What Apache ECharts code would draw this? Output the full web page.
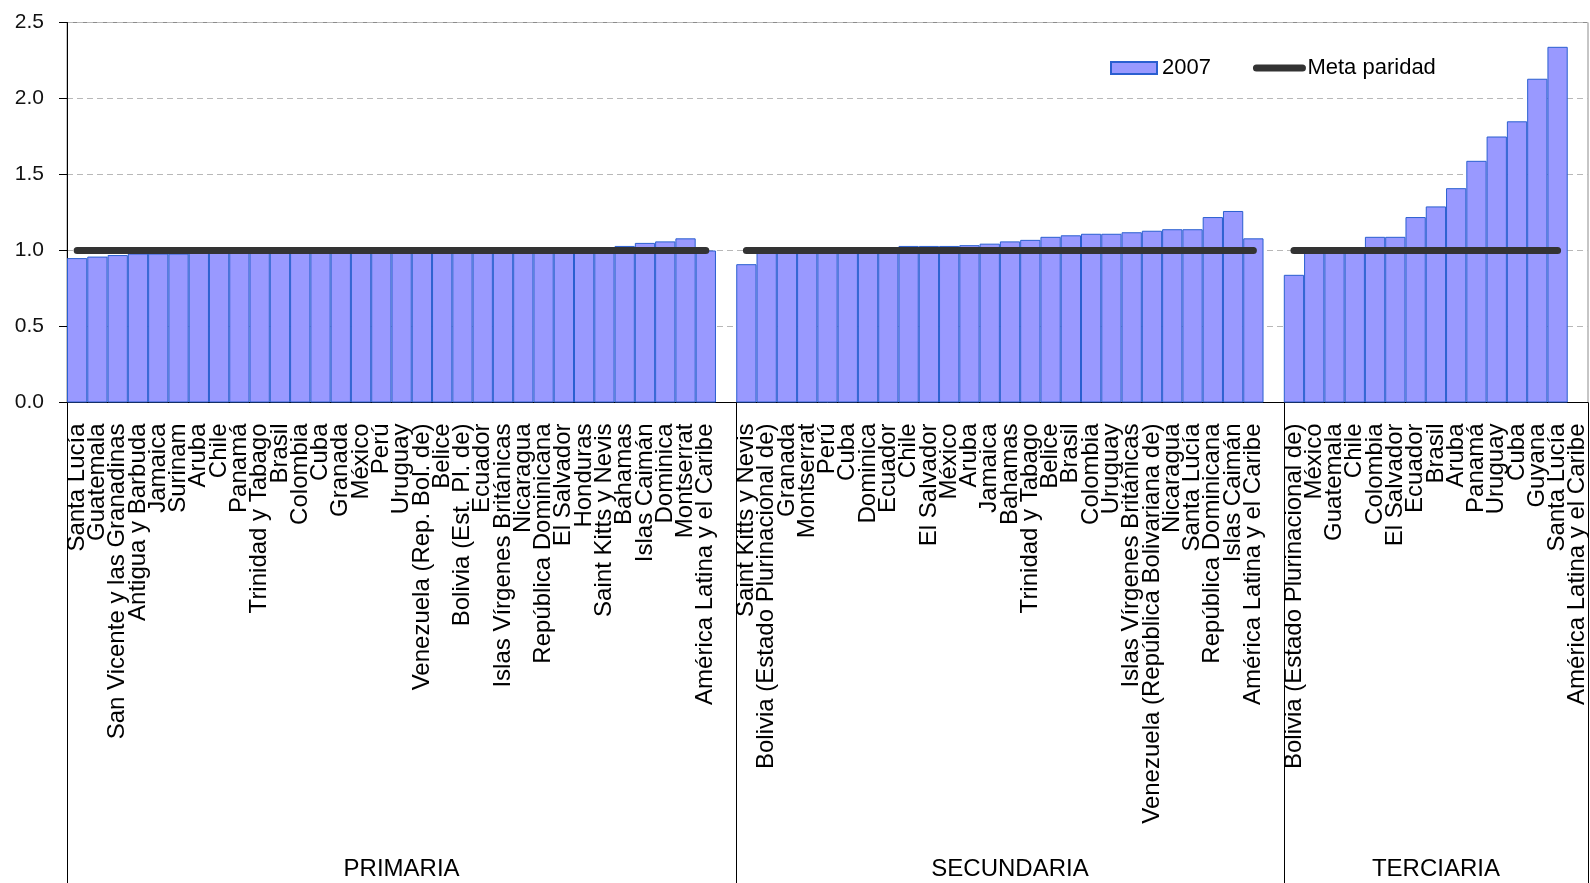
<!DOCTYPE html>
<html>
<head>
<meta charset="utf-8">
<script src="https://cdn.jsdelivr.net/npm/echarts@6/dist/echarts.min.js"></script>
<style>
html,body{margin:0;padding:0;background:#fff;}
#chart{width:1590px;height:883px;}
</style>
</head>
<body>
<div id="chart"></div>
<script>
// ---- Data ----
const groupNames = ['PRIMARIA', 'SECUNDARIA', 'TERCIARIA'];

const primariaCats = ['Santa Lucía','Guatemala','San Vicente y las Granadinas','Antigua y Barbuda','Jamaica','Surinam','Aruba','Chile','Panamá','Trinidad y Tabago','Brasil','Colombia','Cuba','Granada','México','Perú','Uruguay','Venezuela (Rep. Bol. de)','Belice','Bolivia (Est. Pl. de)','Ecuador','Islas Vírgenes Británicas','Nicaragua','República Dominicana','El Salvador','Honduras','Saint Kitts y Nevis','Bahamas','Islas Caimán','Dominica','Montserrat','América Latina y el Caribe'];
const primariaVals = [0.95,0.96,0.97,0.98,0.98,0.98,0.99,0.99,0.99,0.99,0.99,0.99,0.99,0.99,0.99,1.00,1.00,1.00,1.00,1.00,1.00,1.00,1.00,1.00,1.00,1.00,1.01,1.03,1.05,1.06,1.08,1.00];

const secundariaCats = ['Saint Kitts y Nevis','Bolivia (Estado Plurinacional de)','Granada','Montserrat','Perú','Cuba','Dominica','Ecuador','Chile','El Salvador','México','Aruba','Jamaica','Bahamas','Trinidad y Tabago','Belice','Brasil','Colombia','Uruguay','Islas Vírgenes Británicas','Venezuela (República Bolivariana de)','Nicaragua','Santa Lucía','República Dominicana','Islas Caimán','América Latina y el Caribe'];
const secundariaVals = [0.91,0.99,1.00,1.00,1.00,1.00,1.00,1.01,1.03,1.03,1.03,1.035,1.045,1.06,1.07,1.09,1.10,1.11,1.11,1.12,1.13,1.14,1.14,1.22,1.26,1.08];

const terciariaCats = ['Bolivia (Estado Plurinacional de)','México','Guatemala','Chile','Colombia','El Salvador','Ecuador','Brasil','Aruba','Panamá','Uruguay','Cuba','Guyana','Santa Lucía','América Latina y el Caribe'];
const terciariaVals = [0.84,0.99,1.00,1.00,1.09,1.09,1.22,1.29,1.41,1.59,1.75,1.85,2.13,2.34,null];

const metaParidad = 1.0;
const yTicks = [0, 0.5, 1.0, 1.5, 2.0, 2.5];

// ---- Build combined axis (empty slot between groups) ----
const groups = [primariaCats, secundariaCats, terciariaCats];
const groupVals = [primariaVals, secundariaVals, terciariaVals];
const categories = [];
const barData = [];
const lineData = [];
const groupAxis = [];
const groupStarts = [];
groups.forEach(function (cats, g) {
  const start = categories.length;
  groupStarts.push(start);
  cats.forEach(function (c, i) {
    categories.push(c);
    const v = groupVals[g][i];
    barData.push(v);
    lineData.push(v == null ? null : metaParidad);
  });
  if (g < groups.length - 1) {
    categories.push('');
    barData.push(null);
    lineData.push(null);
  }
  const end = categories.length; // exclusive
  const center = Math.floor((start + end - 1) / 2);
  for (let k = start; k < end; k++) groupAxis.push(k === center ? groupNames[g] : '');
});

const chart = echarts.init(document.getElementById('chart'), null, {renderer: 'canvas'});
const font = 'Liberation Sans, Arial, sans-serif';
chart.setOption({
  backgroundColor: '#ffffff',
  animation: false,
  textStyle: {fontFamily: font},
  legend: {
    left: 1105,
    top: 52,
    itemWidth: 46,
    itemHeight: 12,
    itemGap: 42,
    textStyle: {fontSize: 22, color: '#000', fontFamily: font},
    data: [
      {name: '2007', icon: 'rect'},
      {name: 'Meta paridad',
       lineStyle: {width: 7, cap: 'round', color: '#333333'},
       itemStyle: {color: 'rgba(0,0,0,0)', borderWidth: 0, opacity: 0}}
    ]
  },
  grid: {
    left: 67, right: 2, top: 22.5, bottom: 480.5,
    show: true, borderColor: '#8c8c8c', borderWidth: 1,
    containLabel: false,
    outerBoundsMode: 'none'
  },
  xAxis: [
    {
      type: 'category',
      data: categories,
      position: 'bottom',
      boundaryGap: true,
      axisLine: {show: true, onZero: false, lineStyle: {color: '#000', width: 1}},
      axisTick: {show: false},
      axisLabel: {
        interval: 0, rotate: 90, fontSize: 24, margin: 21,
        color: '#000', fontFamily: font
      },
      splitLine: {show: false}
    },
    {
      type: 'category',
      data: groupAxis,
      position: 'bottom',
      boundaryGap: true,
      axisLine: {show: false, onZero: false},
      axisTick: {
        show: true,
        length: 481,
        interval: function (index) { return groupStarts.indexOf(index) >= 0; },
        lineStyle: {color: '#000', width: 1}
      },
      axisLabel: {
        interval: 0, fontSize: 24, margin: 455, color: '#000', fontFamily: font
      },
      splitLine: {show: false}
    }
  ],
  yAxis: {
    type: 'value',
    min: yTicks[0],
    max: yTicks[yTicks.length - 1],
    interval: 0.5,
    axisLine: {show: true, lineStyle: {color: '#000', width: 1}},
    axisTick: {show: true, length: 8, lineStyle: {color: '#000'}},
    axisLabel: {
      fontSize: 21, margin: 23, color: '#111', fontFamily: font,
      formatter: function (v) { return v.toFixed(1); }
    },
    splitLine: {show: true, lineStyle: {color: '#b8b8b8', type: [6, 4], width: 1}}
  },
  series: [
    {
      name: '2007',
      type: 'bar',
      xAxisIndex: 0,
      data: barData,
      barWidth: '100%',
      barCategoryGap: '0%',
      itemStyle: {color: '#9999ff', borderColor: '#2a5fd0', borderWidth: 1}
    },
    {
      name: 'Meta paridad',
      type: 'line',
      xAxisIndex: 0,
      data: lineData,
      symbol: 'none',
      connectNulls: false,
      lineStyle: {color: '#333333', width: 7, cap: 'round'},
      itemStyle: {color: '#333333'},
      z: 5
    }
  ]
});
</script>
</body>
</html>
